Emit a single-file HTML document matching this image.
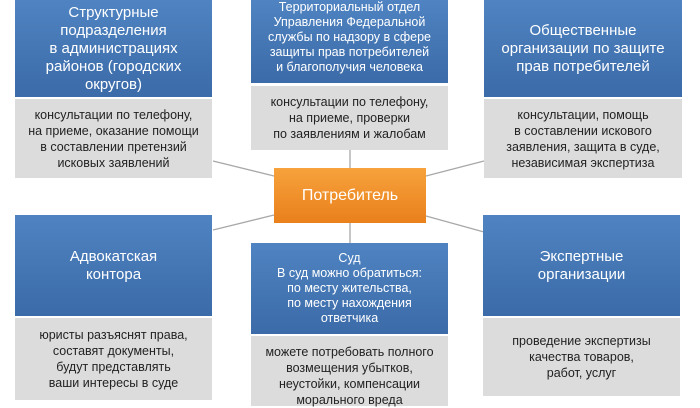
<!DOCTYPE html>
<html><head><meta charset="utf-8"><style>
body{margin:0;width:700px;height:400px;background:#fff;position:relative;overflow:hidden;font-family:"Liberation Sans","DejaVu Sans",sans-serif}
.b{position:absolute;background:linear-gradient(#4f83c1,#3b6ba8);color:#fff;display:flex;align-items:center;justify-content:center;text-align:center;font-size:15px;line-height:18px}
.g{position:absolute;background:#dcdcdc;color:#222;display:flex;align-items:center;justify-content:center;text-align:center;font-size:12.5px;line-height:16px}
.o{position:absolute;background:linear-gradient(#f7a23c,#e9801c);color:#fff;display:flex;align-items:center;justify-content:center;font-size:16px}
</style></head><body>
<svg width="700" height="400" style="position:absolute;left:0;top:0">
<g stroke="#a8a8a8" stroke-width="1.3">
<line x1="213" y1="161" x2="274" y2="176"/>
<line x1="213" y1="230" x2="274" y2="215"/>
<line x1="426" y1="176" x2="484" y2="161"/>
<line x1="426" y1="216" x2="484" y2="232"/>
<line x1="350" y1="150" x2="350" y2="168"/>
<line x1="350" y1="223" x2="350" y2="243"/>
</g></svg>
<div class="b" style="left:15px;top:0;width:197px;height:97px">Структурные<br>подразделения<br>в администрациях<br>районов (городских<br>округов)</div>
<div class="g" style="left:15px;top:99px;width:197px;height:79px">консультации по телефону,<br>на приеме, оказание помощи<br>в составлении претензий<br>исковых заявлений</div>
<div class="b" style="left:251px;top:0;width:197px;height:83px;font-size:12.5px;line-height:15px;align-items:flex-start">Территориальный отдел<br>Управления Федеральной<br>службы по надзору в сфере<br>защиты прав потребителей<br>и благополучия человека</div>
<div class="g" style="left:251px;top:86px;width:197px;height:64px">консультации по телефону,<br>на приеме, проверки<br>по заявлениям и жалобам</div>
<div class="b" style="left:484px;top:0;width:198px;height:97px">Общественные<br>организации по защите<br>прав потребителей</div>
<div class="g" style="left:484px;top:99px;width:198px;height:79px">консультации, помощь<br>в составлении искового<br>заявления, защита в суде,<br>независимая экспертиза</div>
<div class="o" style="left:274px;top:168px;width:152px;height:55px">Потребитель</div>
<div class="b" style="left:15px;top:215px;width:197px;height:101px">Адвокатская<br>контора</div>
<div class="g" style="left:15px;top:318px;width:197px;height:82px">юристы разъяснят права,<br>составят документы,<br>будут представлять<br>ваши интересы в суде</div>
<div class="b" style="left:251px;top:243px;width:197px;height:91px;font-size:12.5px;line-height:15px">Суд<br>В суд можно обратиться:<br>по месту жительства,<br>по месту нахождения<br>ответчика</div>
<div class="g" style="left:251px;top:336px;width:197px;height:70px;align-items:flex-start;padding-top:8px;box-sizing:border-box">можете потребовать полного<br>возмещения убытков,<br>неустойки, компенсации<br>морального вреда</div>
<div class="b" style="left:483px;top:215px;width:197px;height:101px">Экспертные<br>организации</div>
<div class="g" style="left:483px;top:318px;width:197px;height:78px">проведение экспертизы<br>качества товаров,<br>работ, услуг</div>
</body></html>
